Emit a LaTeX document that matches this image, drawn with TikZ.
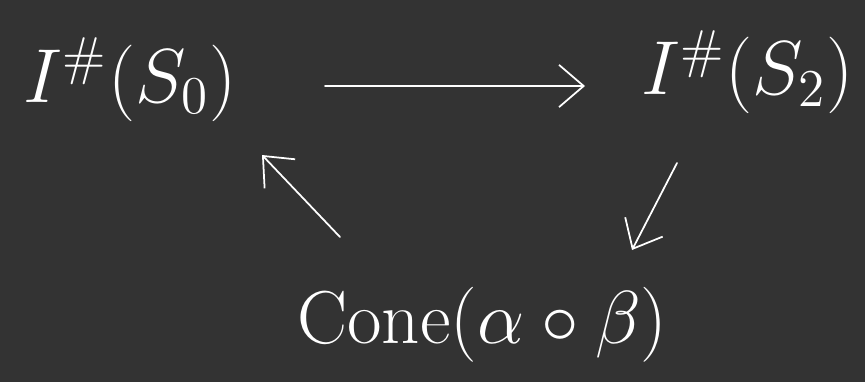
\documentclass[tikz,border=0pt]{standalone}
\definecolor{board}{RGB}{51,51,51}
\usepackage{amsmath,amssymb}
\usepackage{tikz}
\usetikzlibrary{arrows.meta,positioning,calc}

\tikzset{
  chalk/.style={white, line width=1pt, line cap=round},
  term/.style={white, inner sep=2pt, font=\huge, scale=2.1, transform shape},
  barb/.style={-{Straight Barb[length=14pt,width=24pt]}}
}

\begin{document}
\begin{tikzpicture}
    % board
    \fill[board] (0,0) rectangle (17.3,7.64);
    \useasboundingbox (0,0) rectangle (17.3,7.64);

    % I^#(S_0)
    \node[term] (S0) at (2.6,6.05) {$I^{\#}(S_0)$};

    % I^#(S_2)
    \node[term] (S2) at (14.95,6.2) {$I^{\#}(S_2)$};

    % cone
    \node[term, scale=0.98] (cone) at (9.65,1.15) {$\mathrm{Cone}(\alpha\circ\beta)$};

    % arrows
    \draw[chalk, barb] ($(S0)+(3.9,-0.13)$) -- ($(S2)+(-3.25,-0.28)$);
    \draw[chalk, barb] ($(cone)+(-2.85,1.75)$) -- ($(S0)+(2.64,-1.51)$);
    \draw[chalk, barb] ($(S2)+(-1.41,-1.82)$) -- ($(cone)+(2.99,1.49)$);
  \end{tikzpicture}
\end{document}
